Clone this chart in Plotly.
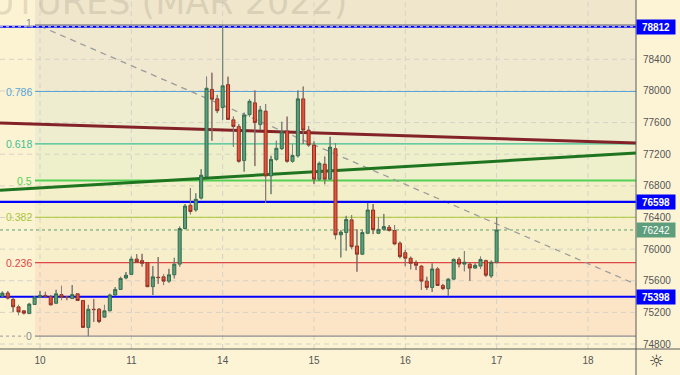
import plotly.graph_objects as go

# ---------------- data (hourly candles, bar index 0 = first bar of the 10th) ----------------
bars_per_day = 17
bar_index = list(range(-7, 86))

opens = [75405, 75445, 75365, 75270, 75220, 75185, 75300,
         75395, 75415, 75400, 75315, 75425, 75395, 75375, 75435, 75350, 75010, 75240, 75240, 75140, 75220, 75420, 75490, 75635,
         75680, 75875, 75855, 75830, 75525, 75645, 75650, 75595, 75675, 75810, 76260, 76555, 76495, 76645, 76915, 78020, 77900,
         77790, 78080, 77635, 77550, 77120, 77700, 77850, 77575, 77745, 76925, 77135, 77270, 77495, 77110, 77180, 77900, 77505,
         77315, 76885, 77075, 76885, 77270, 76180, 76210, 76370, 76040, 75935, 76200, 76495, 76200, 76250, 76275, 76235, 76075,
         75955, 75885, 75830, 75785, 75595, 75515, 75750, 75540, 75500, 75620, 75870, 75810, 75810, 75760, 75785, 75855, 75660,
         75835]
highs = [75465, 75470, 75380, 75295, 75230, 75320, 75405,
         75470, 75460, 75420, 75485, 75535, 75405, 75545, 75445, 75355, 75295, 75370, 75255, 75295, 75435, 75520, 75650, 75710,
         75905, 75935, 75940, 75835, 75785, 75900, 75680, 75750, 75890, 76285, 76570, 76770, 76705, 77010, 78180, 78230, 77950,
         78835, 78180, 77675, 77580, 77725, 77895, 78005, 77810, 77835, 77180, 77370, 77610, 77675, 77330, 78005, 78055, 77555,
         77360, 77105, 77170, 77420, 77340, 76240, 76420, 76430, 76250, 76245, 76585, 76570, 76400, 76445, 76305, 76305, 76095,
         75990, 75905, 75855, 75795, 75650, 75820, 75770, 75560, 75635, 75880, 75895, 75975, 75830, 75820, 75905, 75865, 75855,
         76400]
lows = [75395, 75365, 75205, 75165, 75175, 75180, 75295,
        75380, 75395, 75290, 75305, 75355, 75355, 75370, 75345, 75005, 74900, 75080, 75065, 75130, 75215, 75405, 75485, 75620,
        75675, 75825, 75780, 75520, 75420, 75560, 75545, 75575, 75630, 75780, 76250, 76440, 76475, 76630, 76910, 77370, 77720,
        77635, 77635, 77295, 77095, 76980, 77675, 77050, 77505, 76585, 76695, 77120, 77255, 77095, 77095, 77160, 77330, 77295,
        76825, 76865, 76820, 76875, 76125, 75895, 75980, 76000, 75715, 75925, 76190, 76190, 76190, 76235, 76225, 76050, 75885,
        75785, 75745, 75735, 75485, 75485, 75460, 75535, 75485, 75405, 75610, 75770, 75720, 75600, 75755, 75750, 75650, 75635,
        75820]
closes = [75445, 75380, 75270, 75205, 75190, 75305, 75395,
          75415, 75400, 75295, 75435, 75390, 75390, 75425, 75350, 75010, 75240, 75235, 75085, 75220, 75420, 75490, 75630, 75670,
          75875, 75835, 75820, 75525, 75650, 75640, 75595, 75675, 75810, 76260, 76545, 76475, 76630, 76935, 78035, 77895, 77750,
          78065, 77640, 77550, 77110, 77695, 77870, 77600, 77760, 76925, 77135, 77275, 77485, 77110, 77185, 77900, 77505, 77315,
          76885, 77085, 76885, 77290, 76180, 76215, 76375, 76030, 75935, 76210, 76495, 76245, 76250, 76285, 76235, 76065, 75905,
          75885, 75820, 75795, 75595, 75515, 75750, 75540, 75500, 75620, 75870, 75810, 75835, 75760, 75795, 75870, 75670, 75835,
          76242]

day_ticks = [0, 1, 2, 3, 4, 5, 6]
day_labels = ["10", "11", "14", "15", "16", "17", "18"]
price_ticks = [74800, 75200, 75600, 76000, 76400, 76800, 77200, 77600, 78000, 78400, 78800]

# Fibonacci retracement
fib_low, fib_high = 74900, 78835
fib_levels = [0, 0.236, 0.382, 0.5, 0.618, 0.786, 1]
fib_labels = ["0", "0.236", "0.382", "0.5", "0.618", "0.786", "1"]
fib_start = -0.055
fib_line_colors = ["#8e8e8e", "#e04646", "#a8c63a", "#55cf55", "#3cbf93", "#5aa5da", "#8e8e8e"]
fib_fill_colors = ["#fbe5c6", "#f7efc9", "#f3f0c9", "#eef0cc", "#eeedd0", "#f0e9cf"]
fib_above_fill = "#efe6cc"

# horizontal levels
blue_levels = [78812, 76598, 75398]
last_price = 76242

# trend lines (x in days from the 10th, y price)
dash_line_x, dash_line_y = [0.0, 6.526], [78820, 75555]
maroon_x, maroon_y = [-0.438, 6.526], [77595, 77342]
green_x, green_y = [-0.438, 6.526], [76745, 77215]

x_range = [-0.438, 6.526]
y_range = [74737, 79150]

# ---------------- figure ----------------
xs = [i / bars_per_day for i in bar_index]

fig = go.Figure()

fig.add_trace(go.Candlestick(
    x=xs, open=opens, high=highs, low=lows, close=closes,
    increasing=dict(line=dict(color="#2f6a4a", width=1), fillcolor="#5c9e7c"),
    decreasing=dict(line=dict(color="#8e2f22", width=1), fillcolor="#e4533c"),
    whiskerwidth=0, hoverinfo="skip", showlegend=False,
))
# gray wicks outside the bodies
wx, wy = [], []
for x, o, h, l, c in zip(xs, opens, highs, lows, closes):
    top, bot = max(o, c), min(o, c)
    wx += [x, x, None, x, x, None]
    wy += [h, top, None, bot, l, None]
fig.add_trace(go.Scatter(x=wx, y=wy, mode="lines", line=dict(color="#858585", width=1),
                         hoverinfo="skip", showlegend=False))

X0, X1 = x_range
Y0, Y1 = y_range


def hline(y, color, width, dash=None, x0=X0, x1=X1):
    ln = dict(color=color, width=width)
    if dash:
        ln["dash"] = dash
    return dict(type="line", xref="x", yref="y", x0=x0, x1=x1, y0=y, y1=y, line=ln, layer="below")


shapes = []
prices = [fib_low + lv * (fib_high - fib_low) for lv in fib_levels]
# fib bands
for i, col in enumerate(fib_fill_colors):
    shapes.append(dict(type="rect", xref="x", yref="y", x0=fib_start, x1=X1,
                       y0=prices[i], y1=prices[i + 1], fillcolor=col, line=dict(width=0), layer="below"))
shapes.append(dict(type="rect", xref="x", yref="y", x0=fib_start, x1=X1,
                   y0=prices[-1], y1=Y1, fillcolor=fib_above_fill, line=dict(width=0), layer="below"))
# grid
for t in day_ticks:
    shapes.append(dict(type="line", xref="x", yref="y", x0=t, x1=t, y0=Y0, y1=Y1,
                       line=dict(color="#d6d2c6", width=1, dash="5px,4px"), layer="below"))
for p in price_ticks:
    shapes.append(hline(p, "#d6d2c6", 1, "5px,4px"))
# fib lines
for lv, p, col in zip(fib_levels, prices, fib_line_colors):
    shapes.append(hline(p, col, 2 if lv == 0.5 else 1.2, x0=fib_start))
# dotted leader at level 0
shapes.append(hline(prices[0], "#9a9a9a", 1, "dot", x0=X0, x1=-0.16))
# last price dotted
shapes.append(hline(last_price, "#5aa06f", 1, "dot"))
# trend lines
shapes.append(dict(type="line", xref="x", yref="y", x0=dash_line_x[0], x1=dash_line_x[1],
                   y0=dash_line_y[0], y1=dash_line_y[1],
                   line=dict(color="#9c9c9c", width=1.3, dash="6px,5px"), layer="below"))
shapes.append(dict(type="line", xref="x", yref="y", x0=maroon_x[0], x1=maroon_x[1],
                   y0=maroon_y[0], y1=maroon_y[1], line=dict(color="#832328", width=3), layer="below"))
shapes.append(dict(type="line", xref="x", yref="y", x0=green_x[0], x1=green_x[1],
                   y0=green_y[0], y1=green_y[1], line=dict(color="#1f7420", width=3), layer="below"))
# blue horizontal levels
for b in blue_levels:
    shapes.append(hline(b, "#0000ff", 2.2))
shapes.append(hline(blue_levels[0], "#d8d8ff", 1, "dot"))
# axis separators
shapes.append(dict(type="line", xref="paper", yref="paper", x0=0, x1=680 / 636, y0=0, y1=0,
                   line=dict(color="#5a5a5a", width=1)))
shapes.append(dict(type="line", xref="paper", yref="paper", x0=1, x1=1, y0=-26 / 349, y1=1,
                   line=dict(color="#5a5a5a", width=1)))

annotations = []
for lab, p, col in zip(fib_labels, prices, fib_line_colors):
    annotations.append(dict(x=fib_start, y=p, xref="x", yref="y", text=lab, showarrow=False,
                            xanchor="right", yanchor="middle", xshift=-1, yshift=(2 if lab == "1" else 0),
                            font=dict(size=10.5, color=col, family="Liberation Sans, Arial")))
box_x = 656 / 636
for b in blue_levels:
    annotations.append(dict(x=box_x, y=b, xref="paper", yref="y", text=f"<b>{b}</b>", showarrow=False,
                            xanchor="center", yanchor="middle",
                            bgcolor="#0000ff", width=36, height=12, borderpad=1,
                            font=dict(size=10, color="white", family="Liberation Sans, Arial")))
annotations.append(dict(x=box_x, y=last_price, xref="paper", yref="y", text=f"{last_price}", showarrow=False,
                        xanchor="center", yanchor="middle",
                        bgcolor="#5e9e7c", width=36, height=12, borderpad=1,
                        font=dict(size=10, color="white", family="Liberation Sans, Arial")))
annotations.append(dict(x=box_x, y=-12 / 349, xref="paper", yref="paper", text="☼", showarrow=False,
                        xanchor="center", yanchor="middle",
                        font=dict(size=17, color="#333333", family="DejaVu Sans")))
annotations.append(dict(x=350 / 636, y=1 - 24 / 349, xref="paper", yref="paper",
                        text="FUTURES (MAR 2022)", showarrow=False, xanchor="right", yanchor="bottom",
                        font=dict(size=35, color="rgba(140,130,110,0.22)", family="DejaVu Sans")))

fig.update_layout(
    width=680, height=375,
    margin=dict(l=0, r=44, t=0, b=26, autoexpand=False),
    paper_bgcolor="#fdf4d5", plot_bgcolor="#fcf3d3",
    showlegend=False, shapes=shapes, annotations=annotations,
    boxgap=0.2,
    xaxis=dict(range=x_range, tickvals=day_ticks, ticktext=day_labels, showgrid=False, zeroline=False,
               showline=False, ticks="", rangeslider=dict(visible=False), ticklabelstandoff=4, automargin=False,
               tickfont=dict(size=10, color="#555555", family="Liberation Sans, Arial"), fixedrange=True),
    yaxis=dict(range=y_range, side="right", tickvals=price_ticks, ticktext=[str(p) for p in price_ticks],
               showgrid=False, zeroline=False, showline=False, ticks="", ticklabelstandoff=6, automargin=False,
               tickfont=dict(size=10, color="#555555", family="Liberation Sans, Arial"), fixedrange=True),
    hovermode=False,
)

fig.write_html("out.html", config={"displayModeBar": False},
               post_script="document.body.style.margin='0';document.body.style.padding='0';")
